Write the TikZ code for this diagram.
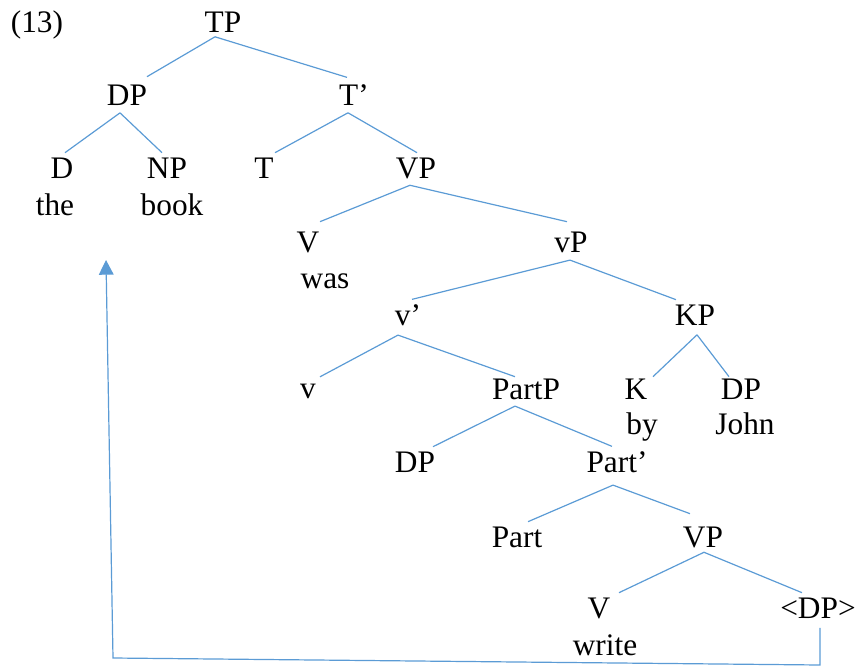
\documentclass[tikz,border=0pt]{standalone}
\usepackage{fontspec}
\setmainfont{Liberation Serif}
\usetikzlibrary{calc,arrows.meta}
\definecolor{branchblue}{HTML}{5B9BD5}

\begin{document}
\begin{tikzpicture}[x=0.75pt,y=-0.75pt,
  every node/.style={inner xsep=0pt,inner ysep=3.4pt,anchor=base,
    font=\fontsize{23.5}{28}\selectfont},
  branch/.style={draw=branchblue,line width=0.9pt}]
  \useasboundingbox (0,0) rectangle (857,671);

  \node (exno) at (37,32) {(13)};
  % labels and words
  \node (tp) at (223,32) {TP};
  \node (dp) at (127,105) {DP};
  \node (tbar) at (354,105) {T’};
  \node (d) at (62,178) {D};
  \node (the) at (55,215) {the};
  \node (np) at (167,178) {NP};
  \node (book) at (172,215) {book};
  \node (t) at (264,178) {T};
  \node (vp) at (416,178) {VP};
  \node (v) at (308,252) {V};
  \node (was) at (325,288) {was};
  \node (littlevp) at (571,252) {vP};
  \node (vbar) at (408,325) {v’};
  \node (kp) at (695,325) {KP};
  \node (littlev) at (308,398) {v};
  \node (partp) at (526,399) {PartP};
  \node (k) at (636,399) {K};
  \node (by) at (642,434) {by};
  \node (dpjohn) at (741,399) {DP};
  \node (john) at (745,434) {John};
  \node (dpspec) at (415,472) {DP};
  \node (partbar) at (617,472) {Part’};
  \node (part) at (517,547) {Part};
  \node (vplow) at (703,547) {VP};
  \node (vlow) at (599,618) {V};
  \node (write) at (605,655) {write};
  \node (trace) at (818,618) {<DP>};

  % branches
  \draw[branch] ($(tp.south)+(-8,0)$) -- ($(dp.north)+(20,-3)$);
  \draw[branch] ($(tp.south)+(-8,0)$) -- ($(tbar.north)+(-7,-2)$);
  \draw[branch] ($(dp.south)+(-7,3)$) -- ($(d.north)+(3,0)$);
  \draw[branch] ($(dp.south)+(-7,3)$) -- ($(np.north)+(-5,0)$);
  \draw[branch] ($(tbar.south)+(-6,3)$) -- ($(t.north)+(11,0)$);
  \draw[branch] ($(tbar.south)+(-6,3)$) -- ($(vp.north)+(1,0)$);
  \draw[branch] ($(vp.south)+(-6,2)$) -- ($(v.north)+(12,-5)$);
  \draw[branch] ($(vp.south)+(-6,2)$) -- ($(littlevp.north)+(-4,-5)$);
  \draw[branch] ($(littlevp.south)+(-1,3)$) -- ($(vbar.north)+(4,0)$);
  \draw[branch] ($(littlevp.south)+(-1,3)$) -- ($(kp.north)+(-19,0)$);
  \draw[branch] ($(vbar.south)+(-10,5)$) -- ($(littlev.north)+(12,-2)$);
  \draw[branch] ($(vbar.south)+(-10,5)$) -- ($(partp.north)+(-11,3)$);
  \draw[branch] ($(kp.south)+(2,5)$) -- ($(k.north)+(17,3)$);
  \draw[branch] ($(kp.south)+(2,5)$) -- ($(dpjohn.north)+(-12,3)$);
  \draw[branch] ($(partp.south)+(-11,2)$) -- ($(dpspec.north)+(18,0)$);
  \draw[branch] ($(partp.south)+(-11,2)$) -- ($(partbar.north)+(-5,0)$);
  \draw[branch] ($(partbar.south)+(-4,8)$) -- ($(part.north)+(11,0)$);
  \draw[branch] ($(partbar.south)+(-4,8)$) -- ($(vplow.north)+(-13,-8)$);
  \draw[branch] ($(vplow.south)+(1,0)$) -- ($(vlow.north)+(20,0)$);
  \draw[branch] ($(vplow.south)+(1,0)$) -- ($(trace.north)+(-16,0)$);

  % movement
  \coordinate (turn) at (820,665);
  \coordinate (corner) at (113,658);
  \coordinate (landing) at (106,260);
  \draw[branch,-{Triangle[width=11pt,length=11pt]}]
    ($(trace.south)+(2,5)$) -- (turn) -- (corner) -- (landing);
\end{tikzpicture}
\end{document}
